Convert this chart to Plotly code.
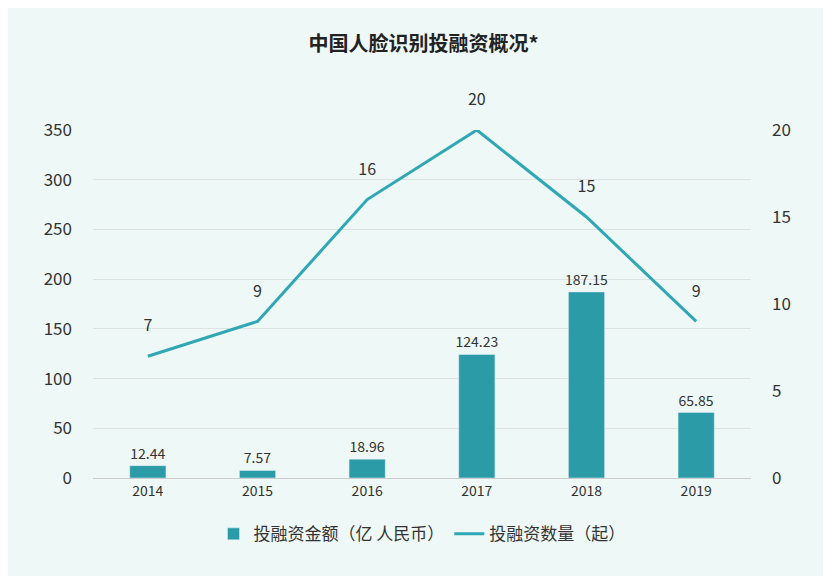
import plotly.graph_objects as go

years = ["2014", "2015", "2016", "2017", "2018", "2019"]
amount = [12.44, 7.57, 18.96, 124.23, 187.15, 65.85]
counts = [7, 9, 16, 20, 15, 9]
amount_labels = ["12.44", "7.57", "18.96", "124.23", "187.15", "65.85"]

font = "Noto Sans CJK SC"
fig = go.Figure()
fig.add_trace(go.Bar(x=years, y=amount, name="投融资金额（亿 人民币）", marker_color="#2b9ba8",
                     width=0.33, text=amount_labels, textposition="outside", constraintext="none",
                     textfont=dict(size=14, color="#333"), cliponaxis=False))
fig.add_trace(go.Scatter(x=years, y=counts, name="投融资数量（起）", yaxis="y2", mode="lines+text",
                         line=dict(color="#2fa7b4", width=3), text=[f"{c}<br> " for c in counts],
                         textposition="top center", textfont=dict(size=16, color="#333"),
                         cliponaxis=False))
fig.update_layout(
    width=831, height=576,
    paper_bgcolor="#eef8f6", plot_bgcolor="rgba(0,0,0,0)",
    font=dict(family=font, color="#333"),
    title=dict(text="<b>中国人脸识别投融资概况*</b>", x=0.5, y=0.95, xanchor="center",
               font=dict(size=20, color="#222")),
    margin=dict(l=85, r=88, t=122, b=106),
    xaxis=dict(showgrid=False, showline=True, linecolor="#ccc", tickfont=dict(size=14)),
    yaxis=dict(range=[0, 350], dtick=50, gridcolor="#dde3e2", zeroline=False,
               tickfont=dict(size=17), ticklabelstandoff=20),
    yaxis2=dict(range=[0, 20], dtick=5, overlaying="y", side="right", showgrid=False,
                zeroline=False, tickfont=dict(size=17), ticklabelstandoff=20),
    legend=dict(orientation="h", x=0.5, xanchor="center", y=-0.11, yanchor="top",
                font=dict(size=17), bgcolor="rgba(0,0,0,0)"),
    bargap=0.6,
)
fig.write_html("out.html")
